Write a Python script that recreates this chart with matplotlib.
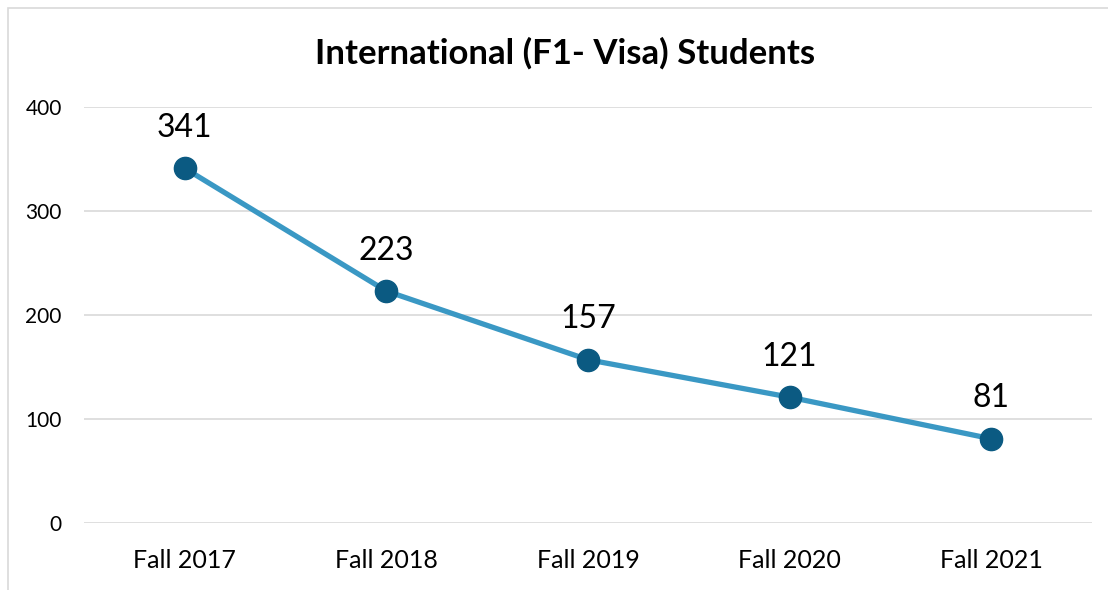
import matplotlib
matplotlib.use("Agg")
from matplotlib import pyplot as plt
from matplotlib.patches import Rectangle

categories = ["Fall 2017", "Fall 2018", "Fall 2019", "Fall 2020", "Fall 2021"]
students = [341, 223, 157, 121, 81]
y_ticks = [0, 100, 200, 300, 400]

plt.rcParams['font.family'] = ['Lato', 'DejaVu Sans']

W, H = 1108, 590
fig = plt.figure(figsize=(W / 100, H / 100), dpi=100)
ax = fig.add_axes([84 / W, 67 / H, 1008 / W, 416 / H])

# chart border (cut off at right and bottom, like the screenshot)
fig.patches.append(Rectangle((8 / W, -0.1), 1.2, 1.1 - 8 / H, transform=fig.transFigure,
                             fill=False, edgecolor="#D9D9D9", linewidth=1.2))

x = list(range(len(categories)))
ax.plot(x, students, color="#3A98C4", linewidth=3.8, marker="o", markersize=16,
        markerfacecolor="#0B5A82", markeredgecolor="#0B5A82", zorder=3)
for xi, v in zip(x, students):
    ax.annotate(str(v), (xi, v), xytext=(0, 29), textcoords="offset points",
                ha="center", va="center", fontsize=23, color="black")

ax.set_xlim(-0.5, len(categories) - 0.5)
ax.set_ylim(0, 400)
ax.set_yticks(y_ticks)
ax.set_xticks(x)
ax.set_xticklabels(categories)
ax.tick_params(axis="y", length=0, pad=16, labelsize=15)
ax.tick_params(axis="x", length=0, pad=19, labelsize=18)
ax.grid(axis="y", color="#D9D9D9", linewidth=1.2)
ax.set_axisbelow(True)
for s in ax.spines.values():
    s.set_visible(False)

fig.text(565 / W, 1 - 53 / H, "International (F1- Visa) Students", ha="center", va="center",
         fontsize=25, fontweight="bold")

fig.savefig("out.png", dpi=100)
